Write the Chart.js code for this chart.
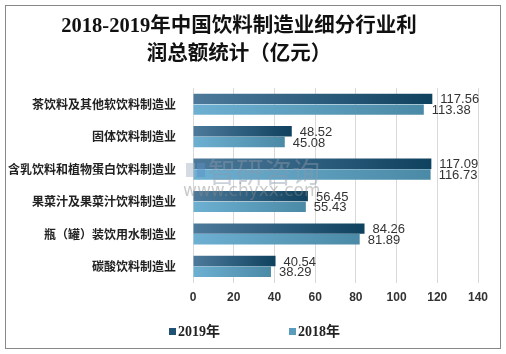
<!DOCTYPE html>
<html>
<head>
<meta charset="utf-8">
<script src="https://cdn.jsdelivr.net/npm/chart.js@4/dist/chart.umd.min.js"></script>
<style>
  html, body { margin: 0; padding: 0; background: #fff; }
  #wrap { position: relative; width: 506px; height: 354px; }
  #frame { position: absolute; left: 5px; top: 5px; width: 494px; height: 342px; border: 1px solid #888; pointer-events: none; }
  canvas { position: absolute; left: 0; top: 0; }
</style>
</head>
<body>
<div id="wrap">
  <canvas id="barChart" width="506" height="354"></canvas>
  <div id="frame"></div>
</div>
<script>
/* global Chart */

var categories = [
  "茶饮料及其他软饮料制造业",
  "固体饮料制造业",
  "含乳饮料和植物蛋白饮料制造业",
  "果菜汁及果菜汁饮料制造业",
  "瓶（罐）装饮用水制造业",
  "碳酸饮料制造业",
];
var seriesNames = ["2019年", "2018年"];
var values2019 = [117.56, 48.52, 117.09, 56.45, 84.26, 40.54];
var values2018 = [113.38, 45.08, 116.73, 55.43, 81.89, 38.29];
var xTicks = [0, 20, 40, 60, 80, 100, 120, 140];

var cjk = "'Noto Sans CJK SC', 'Noto Sans', sans-serif";
var serif = "'Liberation Serif', 'Noto Sans CJK SC', serif";

// each bar lighter on the left, darker at its end
function barGradient(light, dark) {
  return function (ctx) {
    var chart = ctx.chart;
    var area = chart.chartArea;
    var xs = chart.scales.x;
    if (!area || !xs || ctx.raw === undefined) return dark;
    var end = xs.getPixelForValue(ctx.raw);
    var g = chart.ctx.createLinearGradient(area.left, 0, Math.max(end, area.left + 1), 0);
    g.addColorStop(0, light);
    g.addColorStop(1, dark);
    return g;
  };
}

var valueLabels = {
  id: "valueLabels",
  afterDatasetsDraw: function (chart) {
    var ctx = chart.ctx;
    ctx.save();
    ctx.font = "13px 'Liberation Sans', 'DejaVu Sans', sans-serif";
    ctx.fillStyle = "#333";
    ctx.textBaseline = "middle";
    ctx.textAlign = "left";
    chart.data.datasets.forEach(function (ds, i) {
      var meta = chart.getDatasetMeta(i);
      meta.data.forEach(function (bar, j) {
        ctx.fillText(ds.data[j].toFixed(2), bar.x + 8, bar.y + 1);
      });
    });
    ctx.restore();
  },
};

// faint site watermark over the middle of the plot
var watermark = {
  id: "watermark",
  afterDatasetsDraw: function (chart) {
    var ctx = chart.ctx;
    ctx.save();
    ctx.globalAlpha = 0.45;
    ctx.fillStyle = "#9fb0c0";
    ctx.fillRect(186, 163, 9, 14);
    ctx.fillStyle = "#5b8fc8";
    ctx.fillRect(197, 163, 8, 14);
    ctx.fillStyle = "#8b9aaa";
    ctx.font = "28px " + cjk;
    ctx.textAlign = "left";
    ctx.textBaseline = "middle";
    ctx.fillText("智研咨询", 208, 172);
    ctx.font = "17px 'DejaVu Sans', sans-serif";
    ctx.fillStyle = "#8a8a8a";
    ctx.fillText("www.chyxx.com", 183, 192);
    ctx.restore();
  },
};

var bottomLegend = {
  id: "bottomLegend",
  afterDraw: function (chart) {
    var ctx = chart.ctx;
    var y = 332;
    var starts = [169, 289];
    ctx.save();
    ctx.font = "bold 14px " + serif;
    ctx.textBaseline = "middle";
    chart.data.datasets.forEach(function (ds, i) {
      ctx.fillStyle = ds.legendColor;
      ctx.fillRect(starts[i], y - 4, 7, 7);
      ctx.fillStyle = "#222";
      ctx.fillText(ds.label, starts[i] + 9, y);
    });
    ctx.restore();
  },
};

var el = document.getElementById("barChart").getContext("2d");
var barChart = new Chart(el, {
  type: "bar",
  data: {
    labels: categories,
    datasets: [
      {
        label: seriesNames[0],
        data: values2019,
        backgroundColor: barGradient("#4d7a9b", "#0f425f"),
        legendColor: "#1f5273",
        borderWidth: 0,
        barPercentage: 0.97,
        categoryPercentage: 0.66,
      },
      {
        label: seriesNames[1],
        data: values2018,
        backgroundColor: barGradient("#6db0d2", "#4b8aa6"),
        legendColor: "#5b9bbb",
        borderWidth: 0,
        barPercentage: 0.97,
        categoryPercentage: 0.66,
      },
    ],
  },
  plugins: [valueLabels, watermark, bottomLegend],
  options: {
    indexAxis: "y",
    responsive: false,
    animation: false,
    layout: {
      padding: { left: 0, right: 28, top: 0, bottom: 41 },
    },
    plugins: {
      legend: { display: false },
      tooltip: { enabled: false },
      title: {
        display: true,
        text: ["2018-2019年中国饮料制造业细分行业利", "润总额统计（亿元）"],
        font: { family: serif, size: 20.5, weight: "bold", lineHeight: 1.366 },
        color: "#111",
        padding: { top: 13, bottom: 19 },
      },
    },
    scales: {
      x: {
        min: xTicks[0],
        max: xTicks[xTicks.length - 1],
        afterBuildTicks: function (axis) {
          axis.ticks = xTicks.map(function (v) { return { value: v }; });
        },
        grid: { color: "#d9d9d9", drawTicks: false },
        border: { display: false },
        ticks: {
          padding: 8,
          color: "#333",
          font: { family: "'Liberation Sans', 'DejaVu Sans', sans-serif", size: 12, weight: "bold" },
        },
      },
      y: {
        afterFit: function (axis) {
          axis.width = 193;
        },
        grid: { display: false },
        border: { display: false },
        ticks: {
          padding: 9,
          color: "#222",
          font: { family: cjk, size: 12, weight: "bold" },
        },
      },
    },
  },
});
</script>
</body>
</html>
